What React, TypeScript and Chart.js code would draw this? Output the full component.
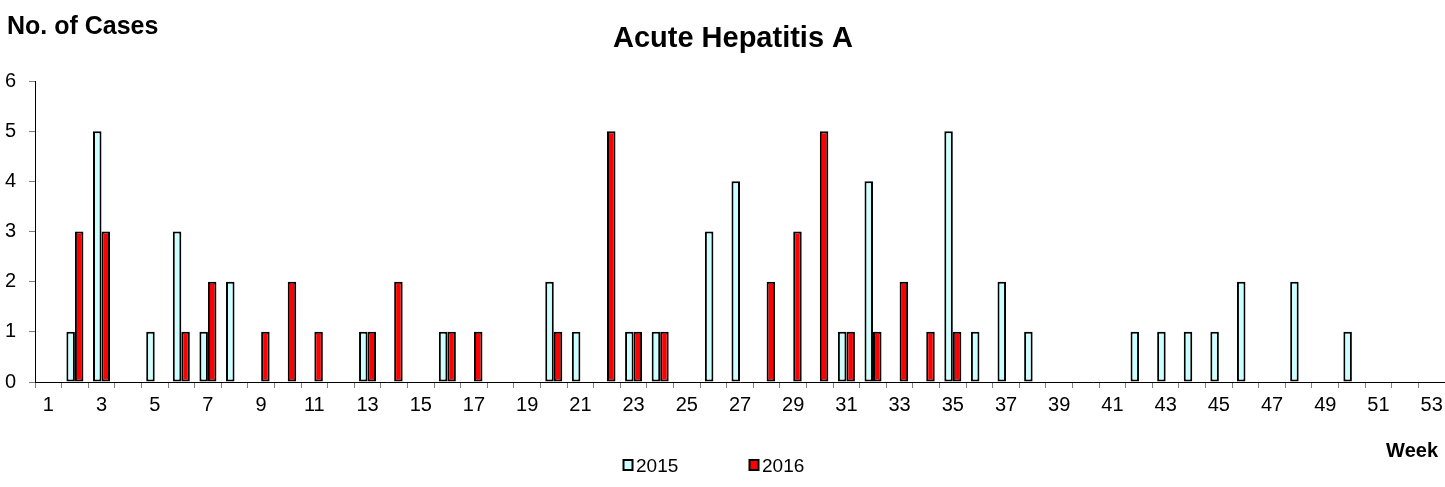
import React, { useEffect, useRef } from "react";
import { Chart, registerables } from "chart.js";

Chart.register(...registerables);

const weeks: string[] = [
  "1", "2", "3", "4", "5", "6", "7", "8", "9", "10",
  "11", "12", "13", "14", "15", "16", "17", "18", "19", "20",
  "21", "22", "23", "24", "25", "26", "27", "28", "29", "30",
  "31", "32", "33", "34", "35", "36", "37", "38", "39", "40",
  "41", "42", "43", "44", "45", "46", "47", "48", "49", "50",
  "51", "52", "53",
];

const cases2015: number[] = [
  0, 1, 5, 0, 1, 3, 1, 2, 0, 0,
  0, 0, 1, 0, 0, 1, 0, 0, 0, 2,
  1, 0, 1, 1, 0, 3, 4, 0, 0, 0,
  1, 4, 0, 0, 5, 1, 2, 1, 0, 0,
  0, 1, 1, 1, 1, 2, 0, 2, 0, 1,
  0, 0, 0,
];

const cases2016: number[] = [
  0, 3, 3, 0, 0, 1, 2, 0, 1, 2,
  1, 0, 1, 2, 0, 1, 1, 0, 0, 1,
  0, 5, 1, 1, 0, 0, 0, 2, 3, 5,
  1, 1, 2, 1, 1, 0, 0, 0, 0, 0,
  0, 0, 0, 0, 0, 0, 0, 0, 0, 0,
  0, 0, 0,
];

const yTicks: number[] = [0, 1, 2, 3, 4, 5, 6];

const titleText = "Acute Hepatitis A";
const yTitleText = "No. of Cases";
const xTitleText = "Week";
const seriesNames: string[] = ["2015", "2016"];
const seriesColors: string[] = ["#CCFFFF", "#FF0000"];

const FONT = "'Liberation Sans', Arial, Helvetica, sans-serif";

const textPlugin = {
  id: "textPlugin",
  afterDraw(chart: any) {
    const ctx = chart.ctx as CanvasRenderingContext2D;
    ctx.save();
    ctx.fillStyle = "#000";
    ctx.textBaseline = "alphabetic";

    ctx.font = `bold 29px ${FONT}`;
    ctx.textAlign = "center";
    ctx.fillText(titleText, 733, 47);

    ctx.font = `bold 25px ${FONT}`;
    ctx.textAlign = "left";
    ctx.fillText(yTitleText, 7, 34);

    ctx.font = `bold 20px ${FONT}`;
    ctx.textAlign = "right";
    ctx.fillText(xTitleText, 1438, 457);

    // legend
    ctx.font = `19px ${FONT}`;
    ctx.textAlign = "left";
    const items = [
      { x: 623.5, tx: 636 },
      { x: 749.5, tx: 762 },
    ];
    items.forEach((it, i) => {
      ctx.fillStyle = seriesColors[i];
      ctx.fillRect(it.x, 460, 9, 10);
      ctx.strokeStyle = "#000";
      ctx.lineWidth = 2;
      ctx.strokeRect(it.x, 460, 9, 10);
      ctx.fillStyle = "#000";
      ctx.fillText(seriesNames[i], it.tx, 472);
    });
    ctx.restore();
  },
};

export default function App() {
  const canvasRef = useRef<HTMLCanvasElement | null>(null);

  useEffect(() => {
    document.body.style.margin = "0";
    const canvas = canvasRef.current;
    if (!canvas) return;
    const toData = (arr: number[]) => arr.map((v) => (v === 0 ? null : v));
    const chart = new Chart(canvas, {
      type: "bar",
      data: {
        labels: weeks,
        datasets: [
          {
            label: seriesNames[0],
            data: toData(cases2015),
            backgroundColor: seriesColors[0],
            borderColor: "#000",
            borderWidth: 2,
            borderSkipped: false,
            categoryPercentage: 0.64,
            barPercentage: 1,
          },
          {
            label: seriesNames[1],
            data: toData(cases2016),
            backgroundColor: seriesColors[1],
            borderColor: "#000",
            borderWidth: 2,
            borderSkipped: false,
            categoryPercentage: 0.64,
            barPercentage: 1,
          },
        ],
      },
      options: {
        animation: false,
        responsive: false,
        maintainAspectRatio: false,
        devicePixelRatio: 1,
        layout: { padding: { top: 81, left: 0, right: 0, bottom: 0 } },
        plugins: {
          legend: { display: false },
          title: { display: false },
          tooltip: { enabled: false },
        },
        scales: {
          x: {
            offset: true,
            grid: {
              display: true,
              drawOnChartArea: false,
              drawTicks: true,
              tickLength: 6,
              color: "#808080",
              offset: true,
            },
            border: { display: true, color: "#000", width: 1 },
            ticks: {
              autoSkip: false,
              maxRotation: 0,
              minRotation: 0,
              padding: 1,
              color: "#000",
              font: { family: FONT, size: 20, lineHeight: 1.65 },
              callback: (_v: any, i: number) => (i % 2 === 0 ? weeks[i] : ""),
            },
            afterFit: (scale: any) => {
              scale.height = 105;
            },
          },
          y: {
            min: yTicks[0],
            max: yTicks[yTicks.length - 1],
            afterBuildTicks: (scale: any) => {
              scale.ticks = yTicks.map((v) => ({ value: v }));
            },
            grid: {
              display: true,
              drawOnChartArea: false,
              drawTicks: true,
              tickLength: 6,
              color: "#808080",
            },
            border: { display: true, color: "#000", width: 1 },
            ticks: {
              padding: 13,
              color: "#000",
              font: { family: FONT, size: 20 },
            },
            afterFit: (scale: any) => {
              scale.width = 35;
            },
          },
        },
      },
      plugins: [textPlugin],
    });
    return () => chart.destroy();
  }, []);

  return (
    <canvas
      ref={canvasRef}
      width={1445}
      height={487}
      style={{ display: "block", width: "1445px", height: "487px" }}
    />
  );
}
